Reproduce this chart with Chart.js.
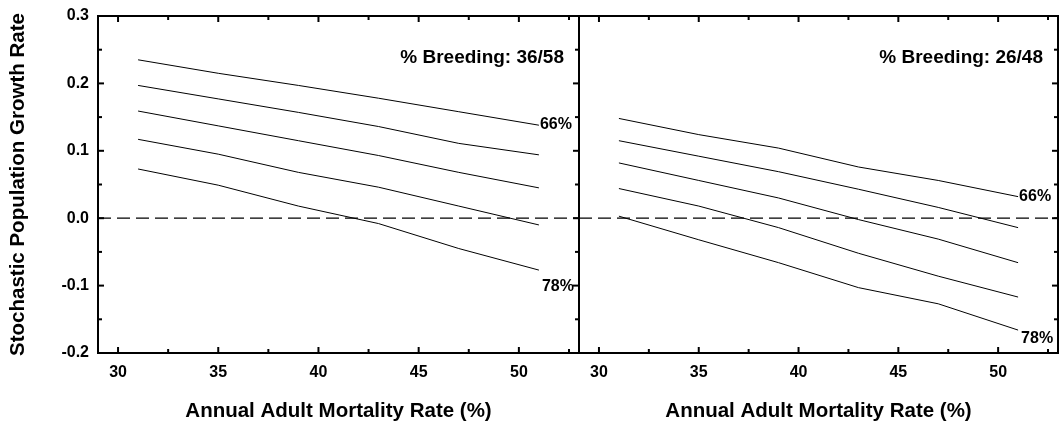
<!DOCTYPE html>
<html>
<head>
<meta charset="utf-8">
<title>Stochastic population growth rate vs adult mortality</title>
<script src="https://cdn.jsdelivr.net/npm/chart.js@4.4.0/dist/chart.umd.min.js"></script>
<style>
  html, body { margin: 0; padding: 0; background: #fff; overflow: hidden; }
  #wrap { position: relative; width: 1060px; height: 441px; }
  #wrap canvas { position: absolute; top: 0; }
  #leftPanel { left: 0; }
  #rightPanel { left: 560px; }
</style>
</head>
<body>
<div id="wrap">
  <canvas id="leftPanel" width="580" height="441"></canvas>
  <canvas id="rightPanel" width="500" height="441"></canvas>
</div>
<script>
// annual adult mortality (%) where the curves were computed
const mortality = [31, 35, 39, 43, 47, 51];

// % Breeding 36/58 - one line per juvenile survival level (66% .. 78%)
const left66 = [0.235, 0.215, 0.197, 0.178, 0.158, 0.138];
const left69 = [0.197, 0.177, 0.157, 0.136, 0.111, 0.094];
const left72 = [0.159, 0.137, 0.115, 0.093, 0.068, 0.045];
const left75 = [0.117, 0.095, 0.068, 0.046, 0.018, -0.010];
const left78 = [0.073, 0.049, 0.018, -0.008, -0.045, -0.077];

// % Breeding 26/48
const right66 = [0.148, 0.124, 0.104, 0.076, 0.056, 0.032];
const right69 = [0.115, 0.092, 0.069, 0.043, 0.016, -0.014];
const right72 = [0.082, 0.056, 0.030, -0.002, -0.031, -0.066];
const right75 = [0.044, 0.018, -0.014, -0.052, -0.086, -0.117];
const right78 = [0.003, -0.032, -0.066, -0.103, -0.127, -0.166];

const xTicks = [30, 35, 40, 45, 50];
const xMinorTicks = [32.5, 37.5, 42.5, 47.5, 52.5];
const yTicks = [-0.2, -0.1, 0.0, 0.1, 0.2, 0.3];
const yMinorTicks = [-0.15, -0.05, 0.05, 0.15, 0.25];

const FONT = "'Liberation Sans', Arial, Helvetica, sans-serif";

// frame, inward ticks, zero line and the text inside each panel
const panelDecor = {
  id: "panelDecor",
  afterDatasetsDraw(chart, args, o) {
    const { ctx, chartArea: a, scales: { x, y } } = chart;
    const line = (x1, y1, x2, y2) => {
      ctx.beginPath();
      ctx.moveTo(x1, y1);
      ctx.lineTo(x2, y2);
      ctx.stroke();
    };
    ctx.save();
    ctx.strokeStyle = "#000";

    ctx.lineWidth = 1.2;
    ctx.setLineDash([13, 6]);
    const y0 = y.getPixelForValue(0);
    line(a.left, y0, a.right, y0);
    ctx.setLineDash([]);

    ctx.lineWidth = 2;
    [[xTicks, 6], [xMinorTicks, 4]].forEach(([vals, len]) => {
      vals.forEach(v => {
        const px = x.getPixelForValue(v);
        line(px, a.top, px, a.top + len);
        line(px, a.bottom, px, a.bottom - len);
      });
    });
    [[yTicks, 6], [yMinorTicks, 4]].forEach(([vals, len]) => {
      vals.forEach(v => {
        const py = y.getPixelForValue(v);
        if (o.leftTicks) line(a.left, py, a.left + len, py);
        line(a.right, py, a.right - len, py);
      });
    });
    ctx.strokeRect(a.left, a.top, a.right - a.left, a.bottom - a.top);

    ctx.fillStyle = "#000";
    ctx.textBaseline = "middle";
    ctx.textAlign = "right";
    ctx.font = "bold 19px " + FONT;
    ctx.fillText(o.title, a.right - 15, a.top + 42);

    ctx.textAlign = "left";
    ctx.font = "bold 16px " + FONT;
    o.labels.forEach(l => {
      const pts = chart.getDatasetMeta(l.series).data;
      const end = pts[pts.length - 1];
      ctx.fillText(l.text, end.x + l.dx, end.y + l.dy);
    });
    ctx.restore();
  }
};

function makePanel(id, series, opts) {
  return new Chart(document.getElementById(id), {
    type: "line",
    data: {
      datasets: series.map(values => ({
        data: values.map((v, i) => ({ x: mortality[i], y: v })),
        borderColor: "#000",
        borderWidth: 1,
        pointRadius: 0,
        fill: false,
        tension: 0
      }))
    },
    options: {
      responsive: false,
      animation: false,
      events: [],
      layout: { padding: opts.padding },
      plugins: {
        legend: { display: false },
        tooltip: { enabled: false },
        panelDecor: { title: opts.title, leftTicks: opts.showY, labels: opts.labels }
      },
      scales: {
        x: {
          type: "linear",
          min: 29,
          max: 53,
          afterBuildTicks: s => { s.ticks = xTicks.map(v => ({ value: v })); },
          afterFit: s => {
            s.height = 88;
            s.paddingLeft = s.paddingRight = 0;
          },
          grid: { display: false, drawTicks: false },
          border: { display: false },
          ticks: {
            color: "#000",
            padding: 10,
            maxRotation: 0,
            autoSkip: false,
            font: { family: FONT, size: 16, weight: "bold" },
            callback: v => v
          },
          title: {
            display: true,
            text: "Annual Adult Mortality Rate (%)",
            color: "#000",
            font: { family: FONT, size: 20.5, weight: "bold" },
            padding: { top: 0, bottom: 17 }
          }
        },
        y: {
          type: "linear",
          display: opts.showY,
          min: -0.2,
          max: 0.3,
          afterBuildTicks: s => { s.ticks = yTicks.map(v => ({ value: v })); },
          afterFit: s => {
            if (opts.showY) s.width = 98;
            // keep the plot box where the page layout wants it
            s.paddingTop = s.paddingBottom = 0;
          },
          grid: { display: false, drawTicks: false },
          border: { display: false },
          ticks: {
            color: "#000",
            padding: 9,
            autoSkip: false,
            font: { family: FONT, size: 16, weight: "bold" },
            callback: v => v.toFixed(1)
          },
          title: {
            display: true,
            text: "Stochastic Population Growth Rate",
            color: "#000",
            font: { family: FONT, size: 20.5, weight: "bold" },
            padding: { top: 6, bottom: 0 }
          }
        }
      }
    },
    plugins: [panelDecor]
  });
}

makePanel("leftPanel", [left66, left69, left72, left75, left78], {
  showY: true,
  padding: { top: 16, right: 1, bottom: 0, left: 0 },
  title: "% Breeding: 36/58",
  labels: [
    { series: 0, text: "66%", dx: 1, dy: -1 },
    { series: 4, text: "78%", dx: 3, dy: 16 }
  ]
});

makePanel("rightPanel", [right66, right69, right72, right75, right78], {
  showY: false,
  padding: { top: 16, right: 2, bottom: 0, left: 19 },
  title: "% Breeding: 26/48",
  labels: [
    { series: 0, text: "66%", dx: 1, dy: 0 },
    { series: 4, text: "78%", dx: 3, dy: 9 }
  ]
});
</script>
</body>
</html>
